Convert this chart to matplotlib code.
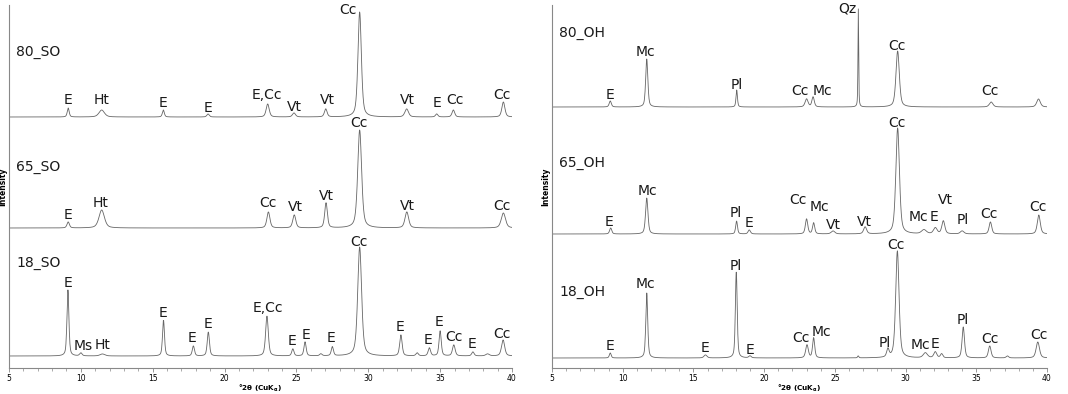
import numpy as np
import matplotlib.pyplot as plt

# ===============================
# DATA (peaks read from the patterns)
# position °2θ, height, fwhm
# ===============================
so18_pos = [9.10, 10.0, 11.5, 15.75, 17.83, 18.87, 22.95, 24.75, 25.6, 26.7, 27.5, 29.40, 32.27, 33.4, 34.25, 35.0, 35.95, 37.28, 38.3, 39.38]
so18_hgt = [66, 3, 2, 36, 10, 24, 40, 7, 14, 2, 9, 109, 21, 3, 8, 25, 11, 4, 2, 16]
so18_fw = [0.16, 0.2, 0.4, 0.16, 0.18, 0.18, 0.22, 0.18, 0.18, 0.2, 0.18, 0.32, 0.2, 0.2, 0.2, 0.18, 0.22, 0.2, 0.3, 0.26]

so65_pos = [9.12, 11.45, 23.05, 24.85, 27.06, 29.40, 32.68, 39.40]
so65_hgt = [6, 18, 16, 13, 25, 98, 16, 15]
so65_fw = [0.2, 0.45, 0.25, 0.25, 0.22, 0.32, 0.3, 0.35]

so80_pos = [9.12, 11.45, 15.74, 18.85, 23.0, 24.83, 27.04, 29.40, 32.67, 34.76, 35.92, 39.40]
so80_hgt = [9, 7, 7, 3, 13, 4, 8, 105, 8, 3, 7, 15]
so80_fw = [0.16, 0.45, 0.16, 0.2, 0.25, 0.25, 0.22, 0.28, 0.3, 0.2, 0.22, 0.25]

oh18_pos = [9.12, 11.70, 15.85, 18.03, 19.0, 23.03, 23.50, 26.65, 28.75, 29.42, 31.4, 32.1, 32.55, 34.08, 35.95, 37.2, 39.35]
oh18_hgt = [5, 65, 3, 87, 2, 13, 20, 2, 8, 107, 5, 6, 4, 31, 12, 2, 16]
oh18_fw = [0.15, 0.16, 0.25, 0.15, 0.2, 0.22, 0.18, 0.1, 0.2, 0.28, 0.35, 0.25, 0.2, 0.2, 0.22, 0.2, 0.28]

oh65_pos = [9.15, 11.70, 18.05, 18.95, 23.0, 23.5, 24.87, 27.14, 29.44, 31.3, 32.1, 32.67, 34.0, 36.0, 39.42]
oh65_hgt = [6, 36, 13, 4, 15, 11, 3, 7, 106, 4, 6, 13, 3, 12, 19]
oh65_fw = [0.18, 0.2, 0.15, 0.2, 0.2, 0.18, 0.3, 0.25, 0.3, 0.4, 0.3, 0.25, 0.3, 0.22, 0.25]

oh80_pos = [9.12, 11.70, 18.06, 23.0, 23.46, 26.66, 29.44, 36.05, 39.4]
oh80_hgt = [6, 48, 17, 8, 10, 98, 56, 5, 8]
oh80_fw = [0.18, 0.18, 0.12, 0.25, 0.2, 0.06, 0.28, 0.3, 0.3]

# baseline of each pattern (stack offset, same units as heights)
so_base = [12, 140, 251]
oh_base = [10, 134, 261]
so_names = ["18_SO", "65_SO", "80_SO"]
oh_names = ["18_OH", "65_OH", "80_OH"]

# phase labels: (text, °2θ, height above baseline)
so18_lab = [("E", 9.11, 73), ("Ms", 10.15, 10), ("Ht", 11.54, 11), ("E", 15.72, 43), ("E", 17.73, 18),
            ("E", 18.85, 32), ("E,Cc", 23.02, 48), ("E", 24.69, 15), ("E", 25.67, 21), ("E", 27.41, 18),
            ("Cc", 29.36, 114), ("E", 32.21, 29), ("E", 34.16, 16), ("E", 34.92, 34), ("Cc", 35.97, 19),
            ("E", 37.22, 12), ("Cc", 39.31, 22)]
so65_lab = [("E", 9.11, 13), ("Ht", 11.40, 25), ("Cc", 23.02, 25), ("Vt", 24.9, 21), ("Vt", 27.06, 32),
            ("Cc", 29.36, 105), ("Vt", 32.7, 22), ("Cc", 39.31, 22)]
so80_lab = [("E", 9.11, 17), ("Ht", 11.47, 17), ("E", 15.72, 14), ("E", 18.85, 9), ("E,Cc", 22.95, 22),
            ("Vt", 24.83, 10), ("Vt", 27.13, 17), ("Cc", 28.59, 107), ("Vt", 32.7, 17), ("E", 34.78, 14),
            ("Cc", 36.04, 17), ("Cc", 39.31, 22)]
oh18_lab = [("E", 9.10, 12), ("Mc", 11.58, 74), ("E", 15.82, 10), ("Pl", 18.01, 92), ("E", 19.0, 8),
            ("Cc", 22.61, 20), ("Mc", 24.02, 26), ("Pl", 28.55, 15), ("Cc", 29.33, 113), ("Mc", 31.03, 13),
            ("E", 32.09, 14), ("Pl", 34.07, 38), ("Cc", 35.98, 19), ("Cc", 39.44, 23)]
oh65_lab = [("E", 9.03, 12), ("Mc", 11.72, 43), ("Pl", 18.01, 21), ("E", 18.93, 11), ("Cc", 22.40, 34),
            ("Mc", 23.88, 27), ("Vt", 24.87, 9), ("Vt", 27.07, 12), ("Cc", 29.40, 111), ("Mc", 30.88, 17),
            ("E", 32.02, 17), ("Vt", 32.79, 34), ("Pl", 34.07, 14), ("Cc", 35.90, 20), ("Cc", 39.37, 27)]
oh80_lab = [("E", 9.10, 12), ("Mc", 11.58, 55), ("Pl", 18.08, 22), ("Cc", 22.54, 16), ("Mc", 24.09, 16),
            ("Qz", 25.86, 99), ("Cc", 29.40, 61), ("Cc", 35.98, 16)]

two_theta = np.arange(5, 40.0001, 0.02)


def pattern(pos, hgt, fw, eta=0.5):
    # pseudo-Voigt peaks on a flat baseline
    y = np.zeros_like(two_theta)
    for p, h, w in zip(pos, hgt, fw):
        d = (two_theta - p) / (w / 2)
        y += h * (eta / (1 + d ** 2) + (1 - eta) * np.exp(-np.log(2) * d ** 2))
    return y


fig = plt.figure(figsize=(10.68, 3.94), dpi=100)
ax_so = fig.add_axes([9 / 1068, 26 / 394, 503 / 1068, 363 / 394])
ax_oh = fig.add_axes([552 / 1068, 26 / 394, 495 / 1068, 363 / 394])

panels = [
    (ax_so, [(so18_pos, so18_hgt, so18_fw, so18_lab), (so65_pos, so65_hgt, so65_fw, so65_lab),
             (so80_pos, so80_hgt, so80_fw, so80_lab)], so_base, so_names, [105, 201, 316]),
    (ax_oh, [(oh18_pos, oh18_hgt, oh18_fw, oh18_lab), (oh65_pos, oh65_hgt, oh65_fw, oh65_lab),
             (oh80_pos, oh80_hgt, oh80_fw, oh80_lab)], oh_base, oh_names, [76, 205, 335]),
]

for ax, traces, bases, names, name_y in panels:
    for (pos, hgt, fw, labs), base, name, ny in zip(traces, bases, names, name_y):
        ax.plot(two_theta, base + pattern(pos, hgt, fw), color="#666666", lw=0.6)
        for txt, x, dy in labs:
            ax.text(x, base + dy, txt, ha="center", va="center", fontsize=10, color="#1a1a1a")
        ax.text(5.5, ny, name, ha="left", va="center", fontsize=10, color="#1a1a1a")

    ax.set_xlim(5, 40)
    ax.set_ylim(0, 363)
    ax.set_xticks(range(5, 41, 5))
    ax.set_xticks(range(5, 41), minor=True)
    ax.set_yticks([])
    ax.tick_params(axis="x", which="major", length=3, width=0.6, color="#888888", labelsize=5.5, pad=1.5)
    ax.tick_params(axis="x", which="minor", length=2.5, width=0.5, color="#888888")
    for s in ["top", "right"]:
        ax.spines[s].set_visible(False)
    for s in ["left", "bottom"]:
        ax.spines[s].set_color("#888888")
        ax.spines[s].set_linewidth(0.8)
    ax.set_xlabel(r"°2θ (CuK$_\mathbf{\alpha}$)", fontsize=5.2, fontweight="bold", labelpad=0)
    ax.set_ylabel("Intensity", fontsize=5.5, fontweight="bold", labelpad=1)

fig.savefig("out.png", dpi=100)
